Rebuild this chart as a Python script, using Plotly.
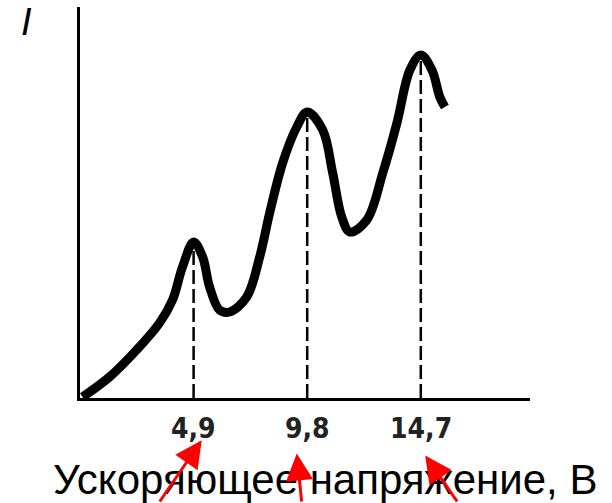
import plotly.graph_objects as go

# Franck-Hertz curve (accelerating voltage, V  vs  current I, arbitrary units)
voltage = [0.11, 1.27, 2.44, 3.43, 3.99, 4.42, 4.9, 5.29, 5.59, 6.02, 6.45, 7.19, 7.75,
           8.18, 8.74, 9.35, 9.8, 10.47, 10.90, 11.29, 11.64, 12.37, 13.06, 13.67,
           14.23, 14.7, 15.18, 15.52, 15.74]
current = [0.1, 2.1, 4.8, 7.5, 9.8, 13.1, 15.6, 14.1, 11.1, 8.8, 8.6, 10.1, 14.1,
           18.5, 23.5, 27.1, 28.6, 26.8, 22.5, 18.1, 16.6, 17.8, 22.5, 27.5,
           32.8, 34.3, 32.8, 30.1, 29.1]

peak_voltage = [4.9, 9.8, 14.7]
peak_current = [15.6, 28.6, 34.3]
tick_labels = ["4,9", "9,8", "14,7"]
x_title = "Ускоряющее напряжение, В"
y_title = "I"

X_MAX = 19.41
Y_MAX = 39.1

fig = go.Figure()

# dashed drop lines from peaks
for v, c in zip(peak_voltage, peak_current):
    fig.add_trace(go.Scatter(x=[v, v], y=[0, c], mode="lines",
                             line=dict(color="black", width=2.5, dash="14px,5px"),
                             hoverinfo="skip", showlegend=False))

fig.add_trace(go.Scatter(x=voltage, y=current, mode="lines",
                         line=dict(color="black", width=9, shape="spline", smoothing=1.0),
                         showlegend=False))

annotations = []
for v, t in zip(peak_voltage, tick_labels):
    annotations.append(dict(x=v, y=-0.0773, xref="x", yref="paper", text=t,
                            showarrow=False, xanchor="center", yanchor="middle",
                            font=dict(family="DejaVu Sans Condensed, Liberation Sans Narrow, sans-serif",
                                      size=28, color="#222222", weight="bold")))

annotations.append(dict(x=0.545, y=-0.209, xref="paper", yref="paper", text=x_title,
                        showarrow=False, xanchor="center", yanchor="middle",
                        font=dict(family="Liberation Sans, Arial, sans-serif", size=42, color="black")))
annotations.append(dict(x=-0.119, y=1.018, xref="paper", yref="paper", text=y_title,
                        showarrow=False, xanchor="center", yanchor="top", borderpad=0,
                        font=dict(family="Liberation Sans, Arial, sans-serif", size=38,
                                  color="black", style="italic")))

# red arrows pointing at the tick labels
arrow_offsets = [(0.35, -0.108, -43, 63), (-0.45, -0.142, 5, 50), (0.19, -0.147, 33, 48)]
for v, (dx, py, ax, ay) in zip(peak_voltage, arrow_offsets):
    annotations.append(dict(x=v + dx, y=py, xref="x", yref="paper", text="",
                            showarrow=True, arrowhead=2, arrowsize=1.8, arrowwidth=3,
                            arrowcolor="#ff0000", ax=ax, ay=ay, axref="pixel", ayref="pixel"))

fig.update_layout(
    width=612, height=503,
    margin=dict(l=80, r=82, t=7, b=105),
    plot_bgcolor="white", paper_bgcolor="white",
    xaxis=dict(range=[0, X_MAX], showline=True, linecolor="black", linewidth=3,
               showgrid=False, zeroline=False, showticklabels=False, ticks=""),
    yaxis=dict(range=[0, Y_MAX], showline=True, linecolor="black", linewidth=3,
               showgrid=False, zeroline=False, showticklabels=False, ticks=""),
    annotations=annotations,
)

fig.write_html("out.html", config={"displayModeBar": False},
               post_script="document.body.style.margin='0';document.body.style.overflow='hidden';")
